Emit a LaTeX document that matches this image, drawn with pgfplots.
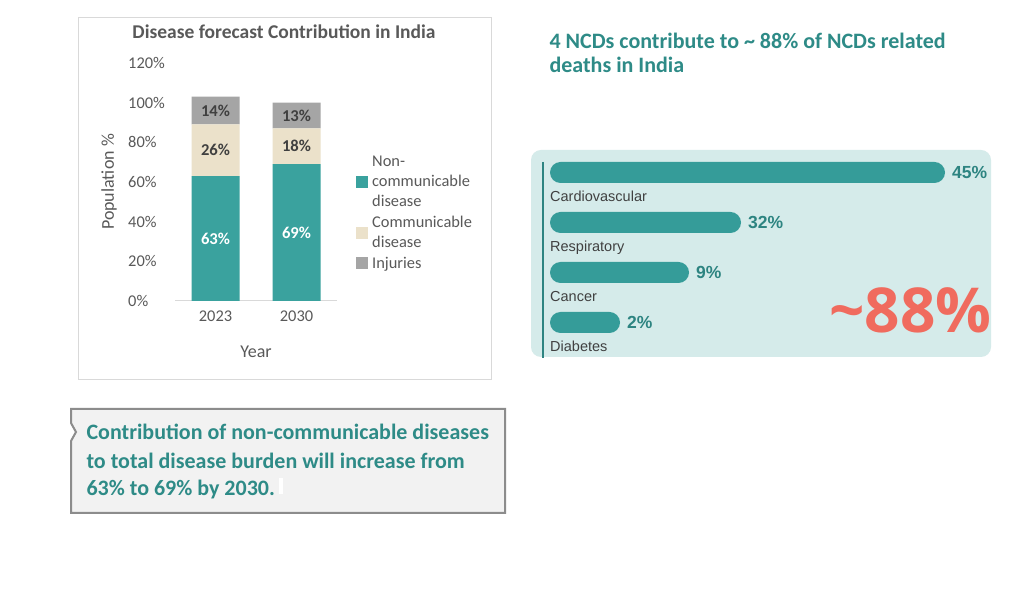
\documentclass[border=0pt]{standalone}
\usepackage{fontspec}
\setmainfont{Carlito}
\newfontfamily\arialf{Liberation Sans}
\newfontfamily\bigf{Open Sans}
\usepackage{pgfplots}
\pgfplotsset{compat=1.18}
\definecolor{ncd}{HTML}{3AA29E}
\definecolor{cd}{HTML}{EBE1CA}
\definecolor{inj}{HTML}{A5A5A5}
\definecolor{txtgray}{HTML}{595959}
\definecolor{dgray}{HTML}{404040}
\definecolor{headteal}{HTML}{2E8B87}
\definecolor{barteal}{HTML}{359C99}
\definecolor{lblteal}{HTML}{2D8481}
\definecolor{panelbg}{HTML}{D5EBEA}
\definecolor{salmon}{HTML}{F06B5E}
\definecolor{framegray}{HTML}{D9D9D9}
\definecolor{boxgray}{HTML}{8C8C8C}
\definecolor{boxfill}{HTML}{F2F2F2}
\pgfplotsset{sq/.style={legend image code/.code={\fill[##1] (0pt,-6pt) rectangle (12pt,6pt);}}}

\begin{document}
\begin{tikzpicture}[x=1pt,y=1pt]
\fill[white] (0,0) rectangle (1024,596);
% ---------- left chart frame and title
\draw[framegray, line width=1pt] (78,578) rectangle (491,216);
\node[anchor=base, font=\fontsize{19.5}{23}\selectfont\bfseries, text=txtgray] at (284,557) {Disease forecast Contribution in India};

\begin{axis}[
  at={(175pt,295pt)}, anchor=south west, scale only axis, width=162pt, height=238pt,
  ybar stacked, bar width=48pt,
  xmin=-0.5, xmax=1.5, ymin=0, ymax=120,
  xtick={0,1}, xticklabels={2023,2030},
  ytick={0,20,...,120}, yticklabel={\pgfmathprintnumber{\tick}\%},
  axis x line*=bottom, axis y line*=left,
  y axis line style={draw=none}, x axis line style={draw=framegray, line width=1pt, -},
  major tick length=0pt,
  /pgf/number format/assume math mode=true,
  tick label style={font=\fontsize{16.4}{19}\selectfont, text=txtgray},
  yticklabel style={anchor=west, inner sep=0pt, xshift=-47pt},
  xticklabel style={yshift=-6pt},
  xlabel={Year}, ylabel={Population \%},
  label style={font=\fontsize{18}{21}\selectfont, text=txtgray},
  xlabel style={at={(axis description cs:0.5,-0.214)}, anchor=center},
  ylabel style={at={(axis description cs:-0.407,0.5)}, anchor=center},
  legend style={at={(axis description cs:1.117,0.37)}, anchor=west, draw=none, fill=none,
    inner sep=0pt, font=\fontsize{16.4}{20}\selectfont, text=txtgray,
    cells={anchor=west}, nodes={align=left, inner sep=0pt}, row sep=8pt,
    /tikz/every odd column/.append style={column sep=4pt}},
  clip=false,
]
\addplot[fill=ncd, draw=none, sq] coordinates {(0,63) (1,69)};
\addplot[fill=cd, draw=none, sq] coordinates {(0,26) (1,18)};
\addplot[fill=inj, draw=none, sq] coordinates {(0,14) (1,13)};
\legend{{Non-\\communicable\\disease},{Communicable\\disease},Injuries}
\end{axis}

\begin{axis}[
  at={(175pt,295pt)}, anchor=south west, scale only axis, width=162pt, height=238pt,
  xmin=-0.5, xmax=1.5, ymin=0, ymax=120, hide axis, clip=false,
  nodes near coords, point meta=explicit symbolic,
  nodes near coords style={anchor=center, font=\fontsize{16.6}{19}\selectfont\bfseries},
]
\addplot[draw=none, nodes near coords style={text=white}] coordinates {(0,31.5)[63\%] (1,34.5)[69\%]};
\addplot[draw=none, nodes near coords style={text=dgray}] coordinates {(0,76)[26\%] (1,78)[18\%]};
\addplot[draw=none, nodes near coords style={text=dgray}] coordinates {(0,96)[14\%] (1,93.5)[13\%]};
\end{axis}

% ---------- right heading
\node[anchor=base west, text=headteal, font=\bfseries\fontsize{22}{25}\selectfont] at (546,547.5) {4 NCDs contribute to \textasciitilde\ 88\% of NCDs related};
\node[anchor=base west, text=headteal, font=\bfseries\fontsize{22}{25}\selectfont] at (546,523.3) {deaths in India};

% ---------- right panel
\fill[panelbg, rounded corners=10pt] (531,446) rectangle (991,239);
\draw[lblteal, line width=1.5pt] (543,434) -- (543,238);
\begin{axis}[
  at={(550pt,248.5pt)}, anchor=south west, scale only axis, width=441pt, height=200pt,
  xbar, bar width=21pt, y dir=reverse,
  xmin=0, xmax=441, ymin=-0.5, ymax=3.5,
  ytick={0,1,2,3}, yticklabels={Cardiovascular,Respiratory,Cancer,Diabetes},
  xtick=\empty, axis line style={draw=none}, major tick length=0pt,
  yticklabel style={anchor=base west, inner sep=0pt, yshift=-29pt, font=\arialf\fontsize{14.5}{17}\selectfont, text=dgray},
  nodes near coords, point meta=explicit symbolic,
  nodes near coords style={anchor=west, inner sep=0pt, xshift=7pt, font=\arialf\bfseries\fontsize{17.5}{20}\selectfont, text=lblteal},
  clip=false,
]
\addplot[fill=barteal, draw=none, rounded corners=10.5pt] coordinates {(395,0)[45\%] (191,1)[32\%] (139,2)[9\%] (70,3)[2\%]};
\end{axis}
\node[anchor=base east, text=salmon, font=\bigf\bfseries\fontsize{62}{70}\selectfont] at (995,263) {\textasciitilde88\%};

% ---------- bottom callout box
\draw[boxgray, line width=2pt, fill=boxfill] (71,187) -- (505,187) -- (505,83) -- (71,83) -- (71,155) -- (76,164) -- (71,173) -- cycle;
\node[anchor=base west, text=headteal, font=\bfseries\fontsize{22}{27}\selectfont] at (83,156) {Contribution of non-communicable diseases};
\node[anchor=base west, text=headteal, font=\bfseries\fontsize{22}{27}\selectfont] at (83,127.7) {to total disease burden will increase from};
\node[anchor=base west, text=headteal, font=\bfseries\fontsize{22}{27}\selectfont] at (83,100.3) {63\% to 69\% by 2030.};
\fill[white] (279,118) rectangle (283,102);
\end{tikzpicture}
\end{document}
